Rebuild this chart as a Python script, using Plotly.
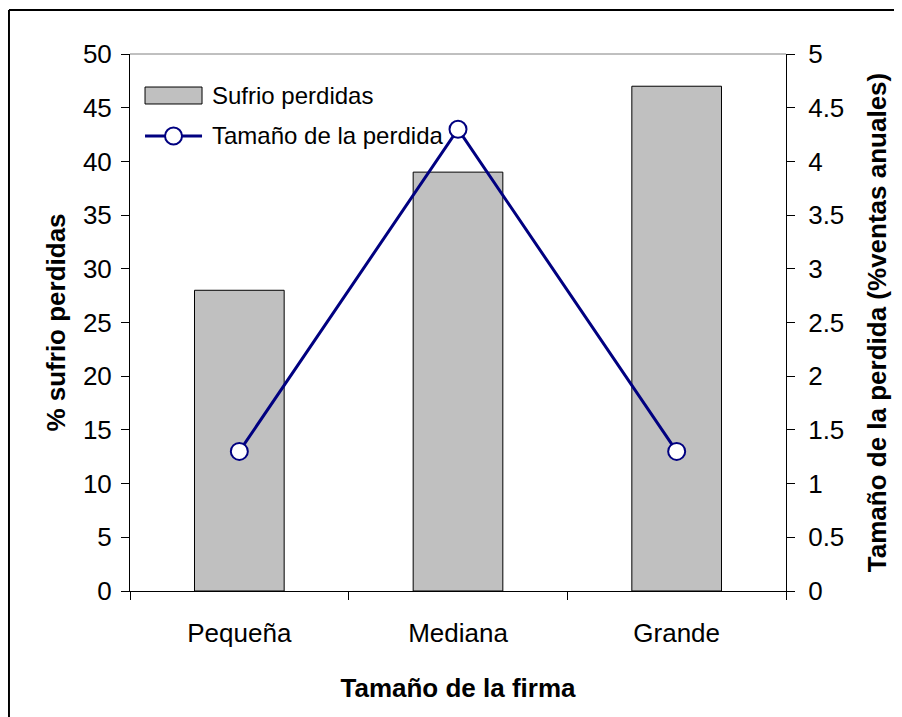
import plotly.graph_objects as go

# data
firm_size = ["Pequeña", "Mediana", "Grande"]
pct_losses = [28, 39, 47]
loss_size = [1.3, 4.3, 1.3]

font_family = "Liberation Sans, Arial, sans-serif"
navy = "#000080"
gray_fill = "#C0C0C0"

fig = go.Figure()

# bars on left axis
fig.add_trace(go.Bar(
  x=firm_size, y=pct_losses, name="Sufrio perdidas",
  marker=dict(color=gray_fill, line=dict(color="black", width=1)),
  width=0.41, showlegend=False,
))

# line on right axis
fig.add_trace(go.Scatter(
  x=firm_size, y=loss_size, name="Tamaño de la perdida", yaxis="y2",
  mode="lines+markers",
  line=dict(color=navy, width=3),
  marker=dict(symbol="circle", size=17, color="white", line=dict(color=navy, width=2)),
  showlegend=False,
))

tick_font = dict(family=font_family, size=26, color="black")
title_font = dict(family=font_family, size=26, color="black")
legend_font = dict(family=font_family, size=24, color="black")

# legend drawn by hand (excel style wide swatches)
leg_x0, leg_x1, leg_txt = 0.0229, 0.1098, 0.122
leg_y1, leg_y2 = 0.9218, 0.8473

# outer border (only top and left edges are inside the picture)
bx, by = -0.1845, 1.0819

# page body has an 8px margin: figure is shifted by it and runs past the window
fig.update_layout(
  width=902, height=717,
  margin=dict(l=122, r=124, t=46, b=134, autoexpand=False),
  paper_bgcolor="white", plot_bgcolor="white",
  font=dict(family=font_family, color="black"),
  showlegend=False,
  xaxis=dict(
    showline=True, linecolor="black", linewidth=1, automargin=False,
    ticks="outside", ticklen=8, tickcolor="black", tickson="boundaries",
    tickfont=tick_font, ticklabelstandoff=19,
    title=dict(text="<b>Tamaño de la firma</b>", font=title_font, standoff=31),
    showgrid=False, zeroline=False,
  ),
  yaxis=dict(
    range=[0, 50], dtick=5, showline=True, linecolor="black", linewidth=1,
    automargin=False,
    ticks="outside", ticklen=8, tickcolor="black",
    tickfont=tick_font, ticklabelstandoff=4,
    title=dict(text="<b>% sufrio perdidas</b>", font=title_font, standoff=9),
    showgrid=False, zeroline=False,
  ),
  yaxis2=dict(
    range=[0, 5], dtick=0.5, overlaying="y", side="right", anchor="x",
    showline=True, linecolor="black", linewidth=1, automargin=False,
    ticks="outside", ticklen=8, tickcolor="black",
    tickfont=tick_font, ticklabelstandoff=8,
    title=dict(text="<b>Tamaño de la perdida (%ventas anuales)</b>", font=title_font, standoff=24),
    showgrid=False, zeroline=False,
  ),
  # inside halves of the crossing ticks
  yaxis3=dict(
    range=[0, 50], dtick=5, overlaying="y", side="left", anchor="x",
    ticks="inside", ticklen=7, tickcolor="black", showticklabels=False,
    showgrid=False, zeroline=False, showline=False, automargin=False,
  ),
  yaxis4=dict(
    range=[0, 5], dtick=0.5, overlaying="y", side="right", anchor="x",
    ticks="inside", ticklen=7, tickcolor="black", showticklabels=False,
    showgrid=False, zeroline=False, showline=False, automargin=False,
  ),
  shapes=[
    # gray top edge of plot area
    dict(type="line", xref="paper", yref="paper", x0=0, x1=1, y0=1, y1=1,
         line=dict(color="#808080", width=1)),
    # outer chart border
    dict(type="line", xref="paper", yref="paper",
         x0=bx, x1=1.3, y0=by, y1=by, line=dict(color="black", width=2)),
    dict(type="line", xref="paper", yref="paper",
         x0=bx, x1=bx, y0=-0.3, y1=by, line=dict(color="black", width=2)),
    # legend swatches
    dict(type="rect", xref="paper", yref="paper",
         x0=leg_x0, x1=leg_x1, y0=0.9069, y1=0.9385,
         fillcolor=gray_fill, line=dict(color="black", width=1)),
    dict(type="line", xref="paper", yref="paper",
         x0=leg_x0, x1=leg_x1, y0=leg_y2, y1=leg_y2,
         line=dict(color=navy, width=3)),
    dict(type="circle", xref="paper", yref="paper",
         xsizemode="pixel", ysizemode="pixel",
         xanchor=(leg_x0 + leg_x1) / 2, yanchor=leg_y2,
         x0=-8.5, x1=8.5, y0=-8.5, y1=8.5,
         fillcolor="white", line=dict(color=navy, width=2)),
  ],
  annotations=[
    dict(text="Sufrio perdidas", xref="paper", yref="paper", x=leg_txt, y=leg_y1,
         xanchor="left", yanchor="middle", showarrow=False, font=legend_font),
    dict(text="Tamaño de la perdida", xref="paper", yref="paper", x=leg_txt, y=leg_y2,
         xanchor="left", yanchor="middle", showarrow=False, font=legend_font),
  ],
)

# no scrollbars in the screenshot
hide_scroll = (
  "document.documentElement.style.overflow='hidden';"
  "document.body.style.overflow='hidden';"
)
fig.write_html("out.html", post_script=hide_scroll)
